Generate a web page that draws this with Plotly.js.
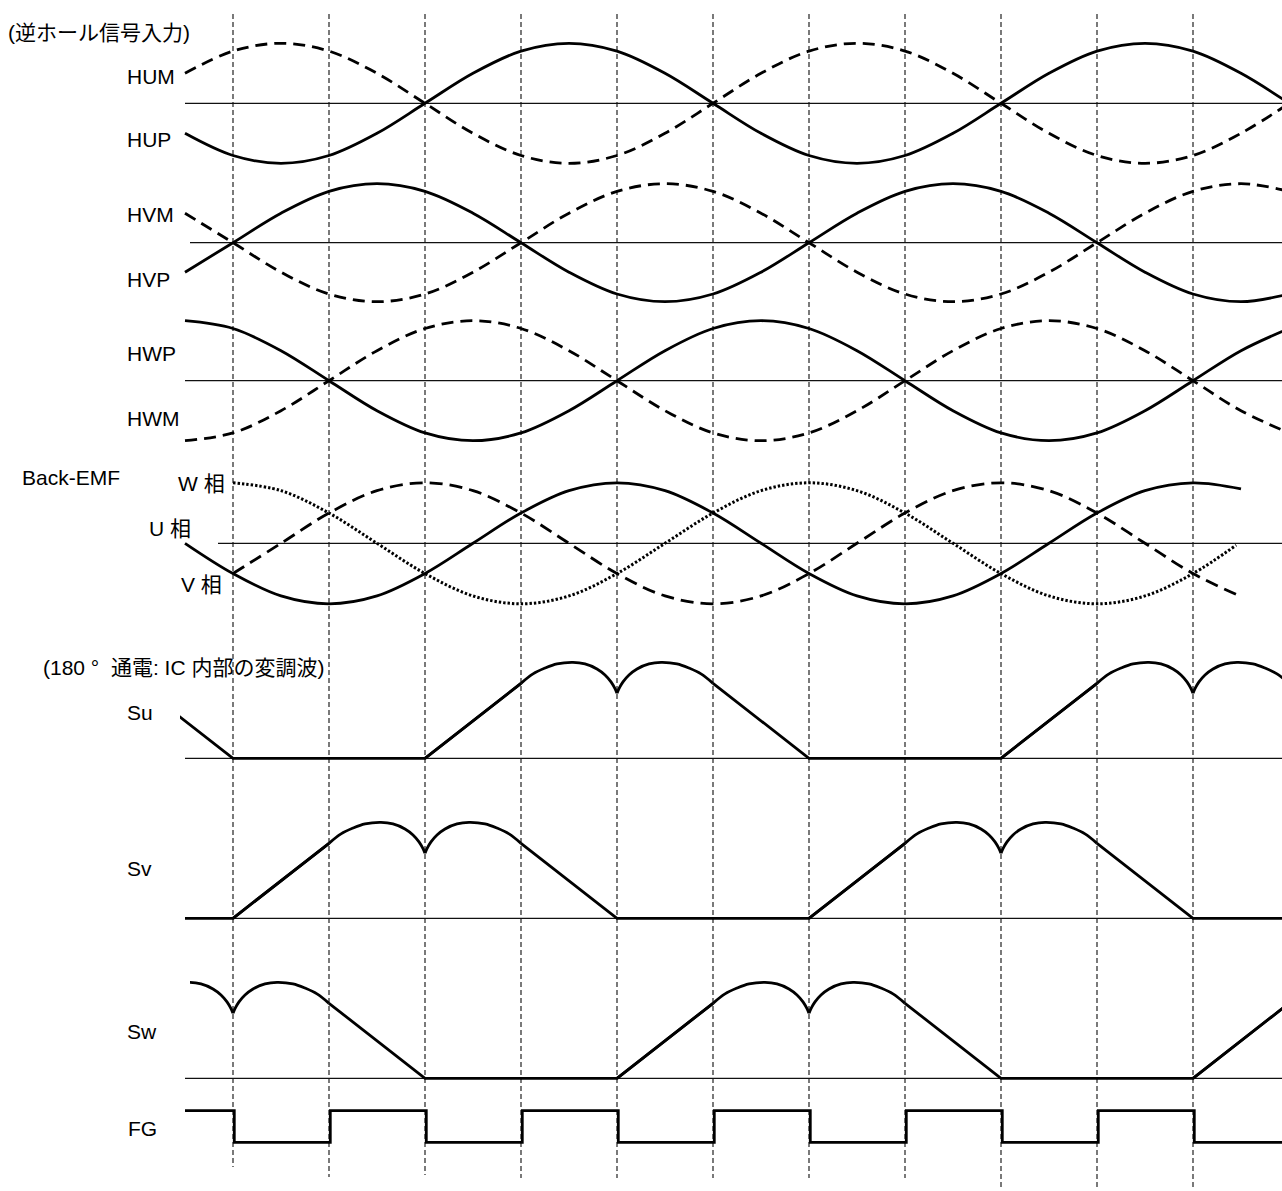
<!DOCTYPE html>
<html>
<head>
<meta charset="utf-8">
<script src="https://cdn.plot.ly/plotly-3.0.1.min.js"></script>
<style>html,body{margin:0;padding:0;background:#fff;}#chart{width:1282px;height:1191px;}</style>
</head>
<body>
<div id="chart"></div>
<script>
// ---------------- DATA (electrical angle in degrees, normalised amplitudes) ----------------
const hallDeg = [-30,0,30,60,90,120,150,180,210,240,270,300,330,360,390,420,450,480,510,540,570,600,630,660];
const HUM = [0.5,0.87,1,0.87,0.5,0,-0.5,-0.87,-1,-0.87,-0.5,0,0.5,0.87,1,0.87,0.5,0,-0.5,-0.87,-1,-0.87,-0.5,0];
const HUP = [-0.5,-0.87,-1,-0.87,-0.5,0,0.5,0.87,1,0.87,0.5,0,-0.5,-0.87,-1,-0.87,-0.5,0,0.5,0.87,1,0.87,0.5,0];
const HVM = [0.5,0,-0.5,-0.87,-1,-0.87,-0.5,0,0.5,0.87,1,0.87,0.5,0,-0.5,-0.87,-1,-0.87,-0.5,0,0.5,0.87,1,0.87];
const HVP = [-0.5,0,0.5,0.87,1,0.87,0.5,0,-0.5,-0.87,-1,-0.87,-0.5,0,0.5,0.87,1,0.87,0.5,0,-0.5,-0.87,-1,-0.87];
const HWP = [1,0.87,0.5,0,-0.5,-0.87,-1,-0.87,-0.5,0,0.5,0.87,1,0.87,0.5,0,-0.5,-0.87,-1,-0.87,-0.5,0,0.5,0.87];
const HWM = [-1,-0.87,-0.5,0,0.5,0.87,1,0.87,0.5,0,-0.5,-0.87,-1,-0.87,-0.5,0,0.5,0.87,1,0.87,0.5,0,-0.5,-0.87];

const emfDegU = [-30,0,30,60,90,120,150,180,210,240,270,300,330,360,390,420,450,480,510,540,570,600,630];
const emfU    = [0,-0.5,-0.87,-1,-0.87,-0.5,0,0.5,0.87,1,0.87,0.5,0,-0.5,-0.87,-1,-0.87,-0.5,0,0.5,0.87,1,0.9];
const emfDegV = [0,30,60,90,120,150,180,210,240,270,300,330,360,390,420,450,480,510,540,570,600,630];
const emfV    = [-0.5,0,0.5,0.87,1,0.87,0.5,0,-0.5,-0.87,-1,-0.87,-0.5,0,0.5,0.87,1,0.87,0.5,0,-0.5,-0.88];
const emfDegW = [0,30,60,90,120,150,180,210,240,270,300,330,360,390,420,450,480,510,540,570,600,627];
const emfW    = [1,0.87,0.5,0,-0.5,-0.87,-1,-0.87,-0.5,0,0.5,0.87,1,0.87,0.5,0,-0.5,-0.87,-1,-0.87,-0.5,-0.03];

// one period of the 180° modulation wave (angle from start of rise, level relative to peak)
const modR = [0,60,67.5,75,82.5,92.5,100,107.5,112.5,116.25,118.75,120,121.25,123.75,127.5,132.5,140,147.5,157.5,165,172.5,180,240,360];
const modV = [0,0.781,0.879,0.94,0.984,1.0,0.983,0.931,0.868,0.796,0.726,0.677,0.726,0.796,0.868,0.931,0.983,1.0,0.984,0.94,0.879,0.781,0,0];
const modPhase = {Su:120, Sv:0, Sw:240};

const fgDeg   = [-30,0.8,60.8,120.8,180.8,240.8,300.8,360.8,420.8,480.8,540.8,600.8,660];
const fgLevel = [1,0,1,0,1,0,1,0,1,0,1,0,0];

const gridDeg = [0,60,120,180,240,300,360,420,480,540,600];

const labels = ["(逆ホール信号入力)","HUM","HUP","HVM","HVP","HWP","HWM","Back-EMF","W 相","U 相","V 相",
                "(180 °\u00a0 通電: IC 内部の変調波)","Su","Sv","Sw","FG"];

// ---------------- LAYOUT CONSTANTS (pixels) ----------------
const W = 1282, H = 1191;
const px2deg = p => (p - 233) * 0.625;
const rows = {hu:{c:103.3,a:60}, hv:{c:242.7,a:59}, hw:{c:380.7,a:60}, emf:{c:543.3,a:60.5}};
const modBase = {Su:758.3, Sv:918.3, Sw:1078.3}, MOD_H = 96;
const fgHigh = 1110.7, fgLow = 1142.3;
const gridTop = 14, gridBottom = [1167,1177,1175,1178,1178,1178,1178,1178,1190,1190,1190];
const baseLines = [[185,103.3],[190,242.7],[185,380.7],[218,543.3],[185,758.3],[185,918.3],[185,1078.3]];
const labelPos = [[8,33],[127,76],[127,139],[127,215],[127,279],[127,353],[127,418],[22,477],[178,483],[149,528],[181,584],[43,667],[127,712],[127,868],[127,1031],[128,1128]];
const clipStart = {Su:180, Sv:185, Sw:190};
const modAxis = {Su:'x2', Sv:'x3', Sw:'x4'};

const LW = 2.8, BLACK = '#000';
const traces = [];
const base = {type:'scatter', mode:'lines', hoverinfo:'skip', showlegend:false};

// vertical dashed guides
{
  const x=[], y=[];
  gridDeg.forEach((d,i)=>{ x.push(d,d,null); y.push(gridTop, gridBottom[i], null); });
  traces.push({...base, x, y, line:{color:'#333', width:1.3, dash:'5px,3px'}});
}
// baselines
{
  const x=[], y=[];
  baseLines.forEach(([p,yy])=>{ x.push(px2deg(p), px2deg(W), null); y.push(yy, yy, null); });
  traces.push({...base, x, y, line:{color:'#111', width:1.3}});
}
function wave(xs, vals, row, dash){
  traces.push({...base, x:xs, y:vals.map(v=>row.c - row.a*v),
    line:{color:BLACK, width:LW, shape:'spline', dash:dash||'solid'}});
}
wave(hallDeg, HUM, rows.hu, '12px,7px');
wave(hallDeg, HUP, rows.hu);
wave(hallDeg, HVM, rows.hv, '12px,7px');
wave(hallDeg, HVP, rows.hv);
wave(hallDeg, HWP, rows.hw);
wave(hallDeg, HWM, rows.hw, '12px,7px');
wave(emfDegU, emfU, rows.emf);
wave(emfDegV, emfV, rows.emf, '13px,7px');
traces.push({...base, x:emfDegW, y:emfW.map(v=>rows.emf.c - rows.emf.a*v),
  line:{color:BLACK, width:3, shape:'spline', dash:'2.4px,2px'}});

// modulation waves
Object.keys(modPhase).forEach(name=>{
  const ph = modPhase[name], b = modBase[name];
  const lx=[], ly=[], ax=[], ay=[];
  const Y = v => b - MOD_H*v;
  for (let k=-2;k<=1;k++){
    const o = ph + 360*k;
    [21,22,23].forEach(i=>{ lx.push(o+modR[i]); ly.push(Y(modV[i])); });
    lx.push(o+360+modR[1]); ly.push(Y(modV[1])); lx.push(null); ly.push(null);
    lx.push(o+modR[0], o+modR[1], null); ly.push(Y(modV[0]), Y(modV[1]), null);
    for (let i=1;i<=11;i++){ ax.push(o+modR[i]); ay.push(Y(modV[i])); }
    ax.push(null); ay.push(null);
    for (let i=11;i<=21;i++){ ax.push(o+modR[i]); ay.push(Y(modV[i])); }
    ax.push(null); ay.push(null);
  }
  traces.push({...base, xaxis:modAxis[name], x:lx, y:ly, line:{color:BLACK, width:LW, shape:'linear'}});
  traces.push({...base, xaxis:modAxis[name], x:ax, y:ay, line:{color:BLACK, width:LW, shape:'spline'}});
});

// FG square wave
traces.push({...base, x:fgDeg, y:fgLevel.map(v=> v ? fgHigh : fgLow), line:{color:BLACK, width:LW, shape:'hv'}});

const FONT = {family:'"Liberation Sans", Arial, "Noto Sans CJK JP", sans-serif', size:21, color:'#000'};
const annotations = labels.map((t,i)=>({
  text:t, xref:'paper', yref:'paper', x:(labelPos[i][0]-2)/W, y:1 - labelPos[i][1]/H,
  xanchor:'left', yanchor:'middle', showarrow:false, font:FONT
}));

const hidden = {visible:false, showgrid:false, zeroline:false, fixedrange:true};
const layout = {
  width:W, height:H, margin:{l:0,r:0,t:0,b:0}, paper_bgcolor:'#fff', plot_bgcolor:'rgba(0,0,0,0)',
  showlegend:false, font:FONT,
  xaxis:{...hidden, range:[px2deg(0), px2deg(W)]},
  yaxis:{...hidden, range:[H,0]},
  annotations
};
['Su','Sv','Sw'].forEach(n=>{
  const key = 'xaxis' + modAxis[n].slice(1);
  layout[key] = {...hidden, anchor:'y', domain:[clipStart[n]/W, 1], range:[px2deg(clipStart[n]), px2deg(W)]};
});

Plotly.newPlot('chart', traces, layout, {staticPlot:true, displayModeBar:false});
</script>
</body>
</html>
